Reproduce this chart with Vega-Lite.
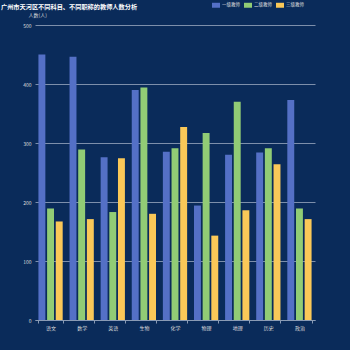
{
  "$schema": "https://vega.github.io/schema/vega-lite/v6.json",
  "width": 280,
  "height": 295,
  "autosize": {"type": "none"},
  "padding": {"left": 35, "top": 25, "right": 35, "bottom": 30},
  "background": "#0a2b5a",
  "title": {
    "text": "广州市天河区不同科目、不同职称的教师人数分析",
    "anchor": "start",
    "frame": "group",
    "dx": -34,
    "dy": 10,
    "offset": 1,
    "fontSize": 6.2,
    "fontWeight": "bold",
    "color": "#ffffff",
    "font": "Noto Sans CJK SC"
  },
  "config": {
    "view": {"stroke": null},
    "font": "Noto Sans CJK SC",
    "axis": {"labelFont": "Noto Sans CJK SC", "titleFont": "Noto Sans CJK SC"}
  },
  "data": {
    "values": [
      {"subject": "语文", "level": "一级教师", "count": 450},
      {"subject": "语文", "level": "二级教师", "count": 189},
      {"subject": "语文", "level": "三级教师", "count": 167},
      {"subject": "数学", "level": "一级教师", "count": 446},
      {"subject": "数学", "level": "二级教师", "count": 289},
      {"subject": "数学", "level": "三级教师", "count": 171},
      {"subject": "英语", "level": "一级教师", "count": 276},
      {"subject": "英语", "level": "二级教师", "count": 183},
      {"subject": "英语", "level": "三级教师", "count": 274},
      {"subject": "生物", "level": "一级教师", "count": 390},
      {"subject": "生物", "level": "二级教师", "count": 394},
      {"subject": "生物", "level": "三级教师", "count": 180},
      {"subject": "化学", "level": "一级教师", "count": 285},
      {"subject": "化学", "level": "二级教师", "count": 291},
      {"subject": "化学", "level": "三级教师", "count": 327},
      {"subject": "物理", "level": "一级教师", "count": 194},
      {"subject": "物理", "level": "二级教师", "count": 317},
      {"subject": "物理", "level": "三级教师", "count": 143},
      {"subject": "地理", "level": "一级教师", "count": 280},
      {"subject": "地理", "level": "二级教师", "count": 370},
      {"subject": "地理", "level": "三级教师", "count": 186},
      {"subject": "历史", "level": "一级教师", "count": 284},
      {"subject": "历史", "level": "二级教师", "count": 291},
      {"subject": "历史", "level": "三级教师", "count": 264},
      {"subject": "政治", "level": "一级教师", "count": 373},
      {"subject": "政治", "level": "二级教师", "count": 189},
      {"subject": "政治", "level": "三级教师", "count": 171}
    ]
  },
  "mark": {"type": "bar"},
  "encoding": {
    "x": {
      "field": "subject",
      "type": "nominal",
      "sort": ["语文", "数学", "英语", "生物", "化学", "物理", "地理", "历史", "政治"],
      "scale": {"paddingInner": 0.22, "paddingOuter": 0.11},
      "axis": {
        "title": null,
        "labelAngle": 0,
        "labelFontSize": 5,
        "labelColor": "#dddddd",
        "domainColor": "#8a9bb5",
        "tickColor": "#8a9bb5",
        "tickSize": 3,
        "tickBand": "extent",
        "labelPadding": 2
      }
    },
    "xOffset": {
      "field": "level",
      "type": "nominal",
      "sort": ["一级教师", "二级教师", "三级教师"],
      "scale": {"paddingInner": 0.2}
    },
    "y": {
      "field": "count",
      "type": "quantitative",
      "scale": {"domain": [0, 500]},
      "axis": {
        "title": "人数(人)",
        "titleAngle": 0,
        "titleAlign": "left",
        "titleX": -7,
        "titleY": -8,
        "titleFontSize": 5,
        "titleFontWeight": "normal",
        "titleColor": "#dddddd",
        "values": [0, 100, 200, 300, 400, 500],
        "labelFontSize": 5,
        "labelColor": "#dddddd",
        "domain": false,
        "ticks": false,
        "labelPadding": 4,
        "gridColor": "#7d8fab",
        "gridWidth": 1
      }
    },
    "color": {
      "field": "level",
      "type": "nominal",
      "sort": ["一级教师", "二级教师", "三级教师"],
      "scale": {
        "domain": ["一级教师", "二级教师", "三级教师"],
        "range": ["#5470c6", "#91cc75", "#fac858"]
      },
      "legend": {
        "title": null,
        "orient": "none",
        "legendX": 177,
        "legendY": -24,
        "direction": "horizontal",
        "symbolType": "M-1,-0.62L1,-0.62L1,0.62L-1,0.62Z",
        "symbolSize": 64,
        "symbolStrokeWidth": 0,
        "labelFontSize": 4.5,
        "labelColor": "#dddddd",
        "columnPadding": 4,
        "labelOffset": 2
      }
    }
  }
}
